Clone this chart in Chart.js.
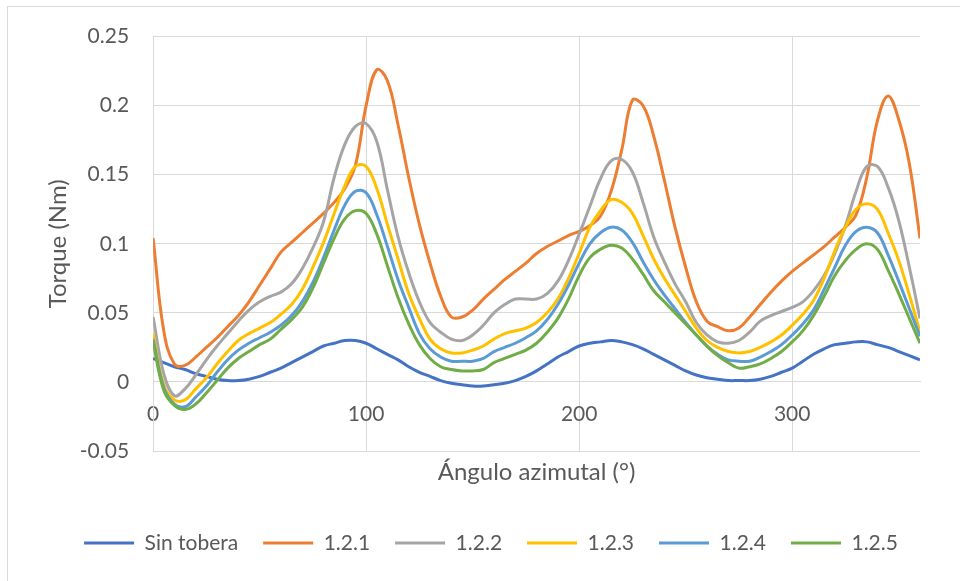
<!DOCTYPE html>
<html><head><meta charset="utf-8">
<script src="https://cdn.jsdelivr.net/npm/chart.js@4.4.0/dist/chart.umd.min.js"></script>
<style>html,body{margin:0;padding:0;background:#fff;}canvas{display:block;}</style>
</head><body>
<canvas id="c" width="960" height="581"></canvas>
<script>
const angles = [0,5,10,15,20,25,30,35,40,45,50,55,60,65,70,75,80,85,90,95,100,105,110,115,120,125,130,135,140,145,150,155,160,165,170,175,180,185,190,195,200,205,210,215,220,225,230,235,240,245,250,255,260,265,270,275,280,285,290,295,300,305,310,315,320,325,330,335,340,345,350,355,360];

const sinTobera = [0.017,0.014,0.011,0.009,0.006,0.004,0.002,0.001,0.001,0.002,0.004,0.007,
  0.010,0.014,0.018,0.022,0.026,0.028,0.030,0.030,0.028,0.024,0.020,0.016,
  0.011,0.007,0.004,0.001,-0.001,-0.002,-0.003,-0.003,-0.002,-0.001,0.001,0.004,
  0.008,0.013,0.018,0.022,0.026,0.028,0.029,0.030,0.029,0.027,0.024,0.020,
  0.016,0.012,0.008,0.005,0.003,0.002,0.001,0.001,0.001,0.002,0.004,0.007,
  0.010,0.015,0.020,0.024,0.027,0.028,0.029,0.029,0.027,0.025,0.022,0.019,
  0.016];
const s121 = [0.104,0.037,0.013,0.012,0.018,0.025,0.032,0.040,0.048,0.058,0.070,0.082,
  0.094,0.101,0.108,0.115,0.122,0.130,0.140,0.157,0.200,0.226,0.218,0.186,
  0.148,0.114,0.086,0.062,0.047,0.047,0.052,0.060,0.067,0.074,0.080,0.086,
  0.093,0.098,0.102,0.106,0.109,0.113,0.120,0.138,0.168,0.204,0.200,0.178,
  0.146,0.112,0.083,0.058,0.044,0.040,0.037,0.039,0.047,0.056,0.065,0.073,
  0.080,0.086,0.092,0.098,0.105,0.112,0.121,0.148,0.189,0.207,0.190,0.158,
  0.104];
const s122 = [0.047,0.006,-0.010,-0.005,0.005,0.016,0.026,0.035,0.044,0.052,0.058,0.062,
  0.065,0.071,0.082,0.097,0.116,0.148,0.172,0.185,0.187,0.174,0.139,0.105,
  0.079,0.058,0.043,0.036,0.031,0.030,0.034,0.041,0.050,0.056,0.060,0.060,
  0.060,0.064,0.073,0.088,0.107,0.127,0.147,0.160,0.161,0.152,0.130,0.105,
  0.087,0.071,0.058,0.043,0.034,0.029,0.028,0.030,0.036,0.044,0.048,0.051,
  0.054,0.058,0.066,0.077,0.093,0.113,0.138,0.156,0.156,0.141,0.117,0.083,
  0.046];
const s123 = [0.035,-0.002,-0.013,-0.013,-0.005,0.003,0.013,0.022,0.030,0.035,0.039,0.043,
  0.049,0.056,0.067,0.083,0.101,0.122,0.142,0.156,0.156,0.140,0.114,0.089,
  0.064,0.046,0.031,0.024,0.021,0.021,0.023,0.026,0.031,0.035,0.037,0.039,
  0.043,0.050,0.060,0.075,0.093,0.112,0.124,0.132,0.130,0.122,0.106,0.089,
  0.075,0.063,0.051,0.039,0.030,0.025,0.022,0.021,0.022,0.025,0.029,0.034,
  0.041,0.049,0.059,0.075,0.095,0.112,0.125,0.129,0.125,0.108,0.088,0.063,
  0.036];
const s124 = [0.031,-0.004,-0.016,-0.018,-0.011,-0.003,0.007,0.016,0.023,0.028,0.032,0.036,
  0.041,0.048,0.058,0.072,0.090,0.110,0.128,0.138,0.137,0.121,0.098,0.074,
  0.054,0.035,0.024,0.018,0.015,0.015,0.015,0.017,0.022,0.025,0.028,0.032,
  0.037,0.045,0.056,0.070,0.086,0.100,0.108,0.112,0.110,0.101,0.087,0.074,
  0.063,0.053,0.043,0.034,0.026,0.020,0.016,0.015,0.015,0.018,0.022,0.027,
  0.034,0.042,0.052,0.067,0.083,0.099,0.109,0.112,0.108,0.092,0.073,0.053,
  0.033];
const s125 = [0.029,-0.006,-0.017,-0.020,-0.016,-0.008,0.001,0.010,0.017,0.022,0.027,0.031,
  0.038,0.045,0.054,0.068,0.086,0.104,0.118,0.124,0.122,0.107,0.084,0.061,
  0.042,0.027,0.017,0.011,0.009,0.008,0.008,0.009,0.014,0.017,0.020,0.023,
  0.028,0.036,0.046,0.060,0.077,0.090,0.096,0.099,0.097,0.089,0.078,0.066,
  0.058,0.050,0.042,0.034,0.026,0.019,0.014,0.010,0.011,0.013,0.017,0.022,
  0.029,0.037,0.048,0.062,0.077,0.088,0.096,0.100,0.096,0.081,0.064,0.046,
  0.028];

const seriesNames = ['Sin tobera','1.2.1','1.2.2','1.2.3','1.2.4','1.2.5'];
const seriesValues = [sinTobera, s121, s122, s123, s124, s125];
const seriesColors = ['#4472C4','#ED7D31','#A5A5A5','#FFC000','#5B9BD5','#70AD47'];
const xTickValues = [0,100,200,300];
const yTickValues = [-0.05,0,0.05,0.1,0.15,0.2,0.25];
const xTitle = 'Ángulo azimutal (°)';
const yTitle = 'Torque (Nm)';

const textColor = '#595959';
const gridColor = '#d9d9d9';
Chart.defaults.font.family = 'Lato';

const frame = {
  id: 'frame',
  beforeDraw(chart) {
    const ctx = chart.ctx;
    ctx.save();
    ctx.fillStyle = '#ffffff';
    ctx.fillRect(0, 0, chart.width, chart.height);
    ctx.strokeStyle = '#d9d9d9';
    ctx.lineWidth = 1;
    ctx.strokeRect(7.5, 6.5, chart.width, chart.height);
    ctx.restore();
  }
};
const legendShift = {
  id: 'legendShift',
  afterLayout(chart) {
    if (chart.legend) { chart.legend.left += 11; chart.legend.right += 11; }
  }
};

const datasets = seriesNames.map((name, i) => ({
  label: name,
  data: angles.map((a, k) => ({x: a, y: seriesValues[i][k]})),
  borderColor: seriesColors[i],
  backgroundColor: seriesColors[i],
  xAxisID: 'x',
  yAxisID: 'y',
  order: seriesNames.length - i
}));

new Chart(document.getElementById('c'), {
  type: 'line',
  data: { datasets },
  plugins: [frame, legendShift],
  options: {
    responsive: false,
    animation: false,
    devicePixelRatio: 1,
    layout: { padding: { left: 40, right: 40, top: 35, bottom: 17.5 } },
    elements: { point: { radius: 0 }, line: { tension: 0.4, borderWidth: 3 } },
    plugins: {
      tooltip: { enabled: false },
      legend: {
        position: 'bottom',
        labels: {
          color: textColor,
          font: { size: 21 },
          boxWidth: 50,
          boxHeight: 3,
          padding: 25,
          sort: (a, b) => a.datasetIndex - b.datasetIndex,
          generateLabels: (chart) => Chart.defaults.plugins.legend.labels.generateLabels(chart)
            .map(l => Object.assign(l, { lineWidth: 0, fillStyle: l.strokeStyle }))
        }
      }
    },
    scales: {
      x: {
        type: 'linear',
        position: { y: 0 },
        min: 0, max: 360,
        afterBuildTicks: s => { s.ticks = xTickValues.map(v => ({ value: v })); },
        grid: { color: gridColor, drawTicks: false },
        border: { color: gridColor },
        ticks: { color: textColor, font: { size: 21 }, padding: 20, maxRotation: 0, callback: v => String(v) }
      },
      x2: {
        type: 'linear',
        position: 'bottom',
        grid: { display: false, drawTicks: false },
        border: { display: false },
        ticks: { display: false },
        title: { display: true, text: xTitle, color: textColor, font: { size: 24 }, padding: { top: 7, bottom: 20.7 } }
      },
      y: {
        type: 'linear',
        min: -0.05, max: 0.25,
        afterBuildTicks: s => { s.ticks = yTickValues.map(v => ({ value: v })); },
        grid: { color: gridColor, drawTicks: false },
        border: { color: gridColor },
        ticks: { color: textColor, font: { size: 21 }, padding: 24, callback: v => String(parseFloat(Number(v).toFixed(2))) },
        title: { display: true, text: yTitle, color: textColor, font: { size: 24 }, padding: { top: 4, bottom: -17 } }
      }
    }
  }
});
</script>
</body></html>
